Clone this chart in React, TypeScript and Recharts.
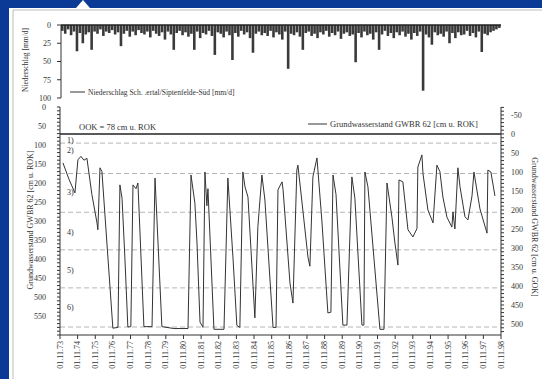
import { BarChart, Bar, LineChart, Line, XAxis, YAxis, ReferenceLine } from 'recharts';

// Niederschlag, roughly one bar per ~2 months (mm/d)
const precipMm = [
  8, 12, 6, 14, 9, 36, 11, 25, 13, 10,
  34, 9, 12, 6, 15, 9, 11, 7, 13, 10,
  29, 12, 8, 16, 9, 14, 7, 11, 13, 9,
  17, 8, 12, 15, 10, 20, 9, 13, 34, 11,
  8, 14, 10, 16, 12, 34, 9, 18, 11, 13,
  8, 15, 41, 10, 12, 17, 9, 14, 48, 11,
  16, 8, 13, 10, 18, 38, 12, 9, 14, 11,
  15, 8, 17, 10, 13, 20, 9, 60, 12, 14,
  10, 16, 34, 11, 9, 15, 12, 18, 10, 13,
  8, 16, 11, 14, 9, 19, 12, 10, 15, 13,
  51, 11, 17, 9, 14, 12, 20, 10, 34, 13,
  8, 15, 11, 18, 10, 14, 9, 16, 12, 20,
  11, 15, 9, 90, 13, 17, 27, 10, 14, 12,
  16, 9, 25, 11, 18, 10, 14, 13, 8, 15,
  11, 17, 9, 37, 12, 14, 10, 8, 6, 4,
];

// Grundwasserstand GWBR 62 — decimal year / cm u. ROK
const gwTime = [
  1974.0, 1974.34, 1974.68, 1974.85, 1975.02, 1975.19, 1975.36, 1975.64, 1975.93, 1975.98,
  1976.1, 1976.21, 1976.83, 1977.12, 1977.23, 1977.35, 1977.51, 1977.68, 1977.85, 1977.97,
  1978.14, 1978.25, 1978.59, 1979.05, 1979.22, 1979.61, 1980.29, 1981.09, 1981.26, 1981.48,
  1981.6, 1981.77, 1981.94, 1982.05, 1982.16, 1982.22, 1982.56, 1983.13, 1983.35, 1983.64,
  1983.86, 1984.03, 1984.2, 1984.32, 1984.49, 1984.88, 1985.05, 1985.28, 1985.45, 1985.91,
  1986.08, 1986.19, 1986.42, 1986.48, 1986.87, 1987.04, 1987.26, 1987.32, 1987.55, 1987.89,
  1988.0, 1988.17, 1988.4, 1988.68, 1989.02, 1989.19, 1989.31, 1989.48, 1989.87, 1990.1,
  1990.38, 1990.55, 1990.95, 1991.06, 1991.12, 1991.29, 1991.97, 1992.2, 1992.37, 1992.65,
  1992.82, 1992.99, 1993.05, 1993.27, 1993.56, 1993.84, 1994.07, 1994.12, 1994.35, 1994.41,
  1994.69, 1994.98, 1995.2, 1995.37, 1995.54, 1995.77, 1996.05, 1996.11, 1996.22, 1996.39,
  1996.51, 1996.79, 1996.96, 1997.19, 1997.3, 1997.64, 1998.04, 1998.09, 1998.26, 1998.49,
];
const gwLevel = [
  147, 190, 226, 139, 130, 140, 135, 230, 305, 323,
  160, 170, 582, 580, 205, 240, 395, 579, 578, 205,
  215, 200, 578, 578, 187, 578, 583, 583, 179, 253,
  358, 566, 580, 171, 260, 215, 585, 585, 187, 397,
  575, 580, 171, 210, 237, 555, 315, 179, 245, 580,
  580, 218, 197, 218, 463, 516, 166, 153, 250, 395,
  419, 184, 134, 300, 542, 540, 179, 230, 574, 574,
  184, 240, 574, 574, 171, 210, 585, 585, 200, 290,
  358, 416, 192, 197, 323, 342, 320, 158, 126, 175,
  271, 305, 153, 170, 237, 290, 316, 276, 321, 160,
  210, 289, 297, 234, 171, 268, 332, 166, 171, 234,
];

const yearLabels = [73, 74, 75, 76, 77, 78, 79, 80, 81, 82, 83, 84, 85, 86, 87, 88, 89, 90, 91, 92, 93, 94, 95, 96, 97, 98];
const precipTicks = [0, 25, 50, 75, 100];
const dashedLevels = [95, 175, 277, 376, 476, 579];
const zoneLabels = ['1)', '2)', '3)', '4)', '5)', '6)'];
const zoneLabelLevels = [87, 113, 224, 329, 429, 526];

const serif = '"Liberation Serif", "DejaVu Serif", serif';
const ink = '#333';

const precipData = precipMm.map((mm, i) => ({ i, mm }));
const gwData = gwTime.map((t, i) => ({ t, cm: gwLevel[i] }));
const xTicks = yearLabels.map((y) => 1900 + y + 10 / 12);

const leftTicks: number[] = [];
for (let v = 0; v <= 600; v += 10) leftTicks.push(v);
const rightTicks: number[] = [];
for (let v = -70; v <= 520; v += 10) rightTicks.push(v);

function YearTick({ x, y, payload }: any) {
  const yy = Math.round(payload.value - 1900 - 10 / 12);
  return (
    <text
      x={x}
      y={y}
      transform={`rotate(-90 ${x} ${y})`}
      textAnchor="end"
      dominantBaseline="central"
      fontSize={8}
      fontFamily={serif}
      fill={ink}
    >
      {`01.11.${String(yy).padStart(2, '0')}`}
    </text>
  );
}

const tickStyle = { fontSize: 8, fill: ink, fontFamily: serif };

export default function App() {
  return (
    <div style={{ position: 'fixed', left: 0, top: 0, width: 542, height: 379, background: '#fff', overflow: 'hidden' }}>
      <div style={{ position: 'absolute', left: 0, top: 0 }}>
        <BarChart width={542} height={110} data={precipData} margin={{ top: 25, right: 41, bottom: 12, left: 21 }} barCategoryGap={0}>
          <XAxis dataKey="i" hide />
          <YAxis
            reversed
            domain={[0, 100]}
            ticks={precipTicks}
            interval={0}
            width={40}
            tick={tickStyle}
            tickSize={4}
            tickMargin={6}
            stroke={ink}
          />
          <ReferenceLine y={0} stroke="#222" strokeWidth={1.5} />
          <Bar dataKey="mm" fill="#3a3a3a" barSize={2.6} isAnimationActive={false} />
        </BarChart>
      </div>

      <div style={{ position: 'absolute', left: 0, top: 100 }}>
        <LineChart width={542} height={279} data={gwData} margin={{ top: 7, right: 11, bottom: 4, left: 20 }}>
          <XAxis
            dataKey="t"
            type="number"
            domain={[xTicks[0], xTicks[xTicks.length - 1]]}
            ticks={xTicks}
            interval={0}
            height={40}
            tick={<YearTick />}
            tickSize={4}
            tickMargin={2}
            stroke={ink}
          />
          <YAxis
            yAxisId="left"
            type="number"
            reversed
            domain={[0, 600]}
            allowDataOverflow
            ticks={leftTicks}
            interval={0}
            width={40}
            tickFormatter={(v: number) => (v % 50 === 0 && v <= 550 ? String(v) : '')}
            tick={tickStyle}
            tickSize={3}
            tickMargin={11}
            stroke={ink}
          />
          <YAxis
            yAxisId="right"
            type="number"
            orientation="right"
            reversed
            domain={[-71, 529]}
            allowDataOverflow
            ticks={rightTicks}
            interval={0}
            width={30}
            tickFormatter={(v: number) => (v % 50 === 0 ? String(v) : '')}
            tick={tickStyle}
            tickSize={3}
            tickMargin={7}
            stroke={ink}
          />
          {dashedLevels.map((lv) => (
            <ReferenceLine key={lv} yAxisId="left" y={lv} stroke="#b5b5b5" strokeDasharray="5 3" />
          ))}
          {zoneLabelLevels.map((lv, i) => (
            <ReferenceLine
              key={'z' + i}
              yAxisId="left"
              y={lv}
              stroke="none"
              label={{ value: zoneLabels[i], position: 'insideLeft', offset: 7, fontSize: 8, fill: ink, fontFamily: serif }}
            />
          ))}
          <ReferenceLine yAxisId="right" y={0} stroke="#222" strokeWidth={1.4} ifOverflow="extendDomain" />
          <Line
            yAxisId="left"
            dataKey="cm"
            type="linear"
            stroke="#333"
            strokeWidth={1}
            dot={false}
            isAnimationActive={false}
          />
        </LineChart>
      </div>

      <svg width={542} height={379} style={{ position: 'absolute', left: 0, top: 0, pointerEvents: 'none' }}>
        <rect x={0} y={0} width={542} height={8} fill="#0b3a96" />
        <rect x={0} y={0} width={9} height={379} fill="#0b3a96" />
        <polygon points="76,8 83,0 90,8" fill="#fff" />
        <line x1={13} y1={10} x2={13} y2={379} stroke="#bbb" />
        <line x1={13} y1={10} x2={542} y2={10} stroke="#bbb" />

        <text x={25} y={60} transform="rotate(-90 25 60)" textAnchor="middle" dominantBaseline="central" fontSize={7.5} fontFamily={serif} fill={ink}>
          Niederschlag [mm/d]
        </text>
        <text x={30} y={220} transform="rotate(-90 30 220)" textAnchor="middle" dominantBaseline="central" fontSize={8} fontFamily={serif} fill={ink}>
          Grundwasserstand GWBR 62 [cm u. ROK]
        </text>
        <text x={534} y={227} transform="rotate(90 534 227)" textAnchor="middle" dominantBaseline="central" fontSize={8} fontFamily={serif} fill={ink}>
          Grundwasserstand GWBR 62 [cm u. GOK]
        </text>

        <line x1={70} y1={92} x2={85} y2={92} stroke={ink} />
        <text x={88} y={92} dominantBaseline="central" fontSize={7.5} fontFamily={serif} fill={ink}>
          Niederschlag Sch. .ertal/Siptenfelde-Süd [mm/d]
        </text>
        <line x1={308} y1={124} x2={327} y2={124} stroke={ink} />
        <text x={330} y={124} dominantBaseline="central" fontSize={8.5} fontFamily={serif} fill={ink}>
          Grundwasserstand GWBR 62 [cm u. ROK]
        </text>
        <text x={79} y={127} dominantBaseline="central" fontSize={8.5} fontFamily={serif} fill={ink}>
          OOK = 78 cm u. ROK
        </text>
      </svg>
    </div>
  );
}
